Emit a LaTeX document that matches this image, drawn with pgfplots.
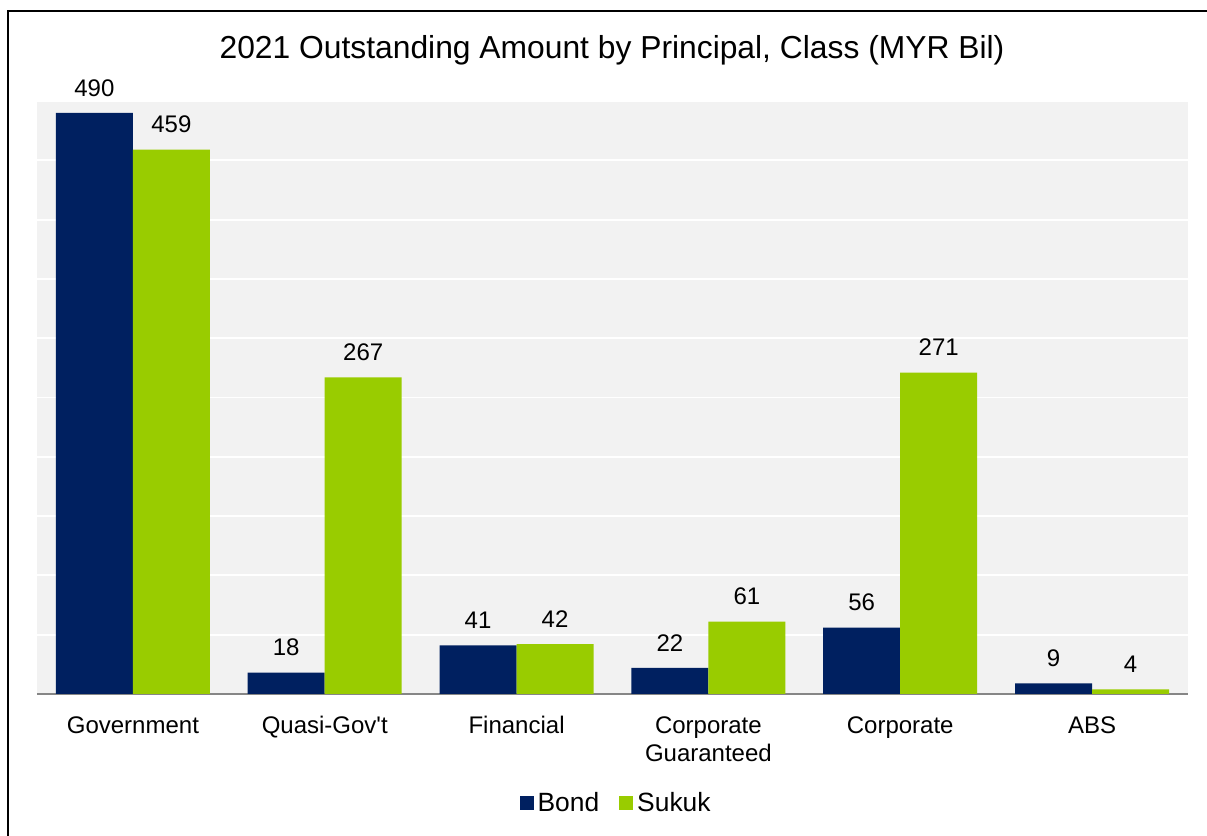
\documentclass[border=0pt]{standalone}
\usepackage{pgfplots}
\pgfplotsset{compat=1.18}
\usepackage{fontspec}
\setmainfont{Liberation Sans}
\definecolor{bondc}{HTML}{002060}
\definecolor{sukukc}{HTML}{99CC00}
\definecolor{bgc}{HTML}{F2F2F2}
\definecolor{axc}{HTML}{868686}
\begin{document}
\begin{tikzpicture}
\path[use as bounding box] (0,0) rectangle (603.5pt,418pt);
\draw[black, line width=1pt] (3.75pt,-1pt) -- (3.75pt,412.25pt) -- (605pt,412.25pt);
\node[font=\fontsize{15.9}{19}\selectfont] at (306pt,393pt) {2021 Outstanding Amount by Principal, Class (MYR Bil)};
\begin{axis}[
  at={(18.5pt,71pt)}, anchor=south west,
  width=575.5pt, height=296.5pt, scale only axis,
  ybar=0pt, bar width=38.5pt,
  xmin=-0.5, xmax=5.5, ymin=0, ymax=500,
  axis background/.style={fill=bgc},
  axis x line*=bottom, axis y line*=left,
  x axis line style={draw=axc, line width=0.8pt},
  y axis line style={draw=none},
  ytick={0,50,...,500}, yticklabels={}, ytick style={draw=none},
  ymajorgrids, major grid style={white, line width=0.9pt},
  xtick={0,...,5},
  xticklabels={Government,Quasi-Gov\textquotesingle t,Financial,{Corporate\\Guaranteed},Corporate,ABS},
  xtick style={draw=none},
  xticklabel style={align=center, font=\fontsize{12}{14}\selectfont, yshift=-3.5pt},
  extra x ticks={-0.5,0.5,1.5,2.5,3.5,4.5,5.5},
  extra x tick labels={},
  extra x tick style={tick style={draw=axc, line width=0.8pt}, major tick length=5pt, tick align=outside, grid=none},
  nodes near coords,
  every node near coord/.append style={font=\fontsize{12}{14}\selectfont, anchor=center, yshift=12.5pt, text=black},
  /pgf/number format/assume math mode=true,
  legend style={at={(0.504,-0.1838)}, anchor=center, draw=none, fill=none, legend columns=2,
    font=\fontsize{13.2}{15}\selectfont, /tikz/every even column/.append style={column sep=8pt}},
  legend image code/.code={\fill[#1] (0pt,-3.5pt) rectangle (7pt,3.5pt);},
]
\addplot[fill=bondc, draw=none] coordinates {(0,490) (1,18) (2,41) (3,22) (4,56) (5,9)};
\addplot[fill=sukukc, draw=none] coordinates {(0,459) (1,267) (2,42) (3,61) (4,271) (5,4)};
\legend{Bond,Sukuk}
\end{axis}
\end{tikzpicture}
\end{document}
